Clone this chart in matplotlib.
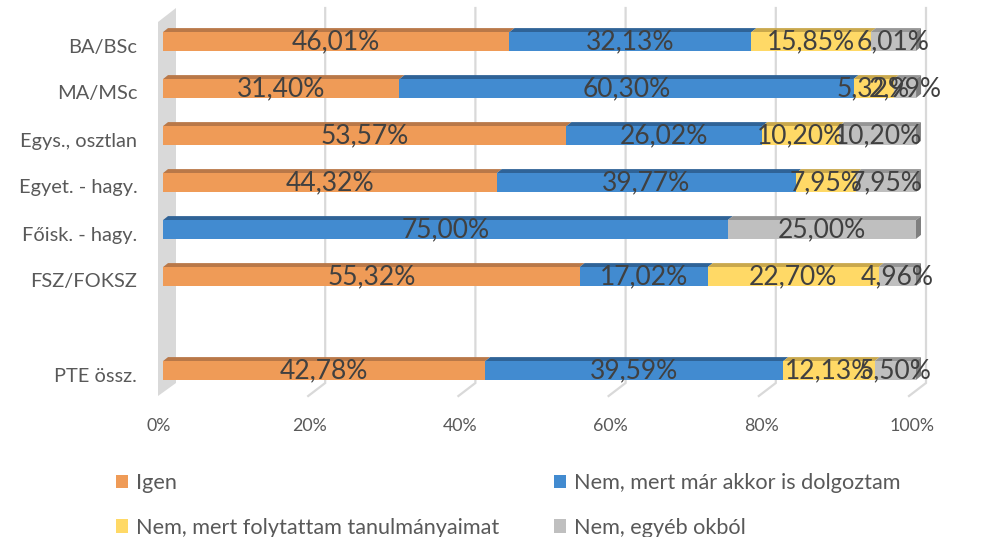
import matplotlib
matplotlib.use("Agg")
import matplotlib.pyplot as plt
from matplotlib.patches import Polygon, Patch
from matplotlib.transforms import IdentityTransform, blended_transform_factory, ScaledTranslation
import numpy as np

categories = ["BA/BSc", "MA/MSc", "Egys., osztlan", "Egyet. - hagy.",
              "Főisk. - hagy.", "FSZ/FOKSZ", "", "PTE össz."]
series_names = ["Igen", "Nem, mert már akkor is dolgoztam",
                "Nem, mert folytattam tanulmányaimat", "Nem, egyéb okból"]
igen = [46.01, 31.40, 53.57, 44.32, 0.0, 55.32, None, 42.78]
dolgoztam = [32.13, 60.30, 26.02, 39.77, 75.00, 17.02, None, 39.59]
tanulmany = [15.85, 5.32, 10.20, 7.95, 0.0, 22.70, None, 12.13]
egyeb = [6.01, 2.99, 10.20, 7.95, 25.00, 4.96, None, 5.50]
x_ticks = [0, 20, 40, 60, 80, 100]
x_tick_labels = ["0%", "20%", "40%", "60%", "80%", "100%"]

front_colors = ["#EF9B57", "#428BD0", "#FFD966", "#BFBFBF"]
top_colors = ["#B97848", "#2F6397", "#C9A84C", "#969696"]
side_colors = ["#B97848", "#2F6397", "#C9A84C", "#7F7F7F"]

FONT = "Lato"
W, H, DPI = 986, 537, 100
fig = plt.figure(figsize=(W / DPI, H / DPI), dpi=DPI)

# axes frame in pixels (left, top, right, bottom)
L, T, R, B = 163, 18, 916, 394
ax = fig.add_axes([L / W, 1 - B / H, (R - L) / W, (B - T) / H])
ax.set_xlim(0, 100)
ax.set_ylim(len(categories) - 0.5, -0.5)
for s in ax.spines.values():
    s.set_visible(False)
ax.set_facecolor("none")

DEPTH = (5, 4)          # bar top-face offset in pixels
BAR_H = 0.40

# back wall at 0 and gridlines on the back plane with floor edges
blend = blended_transform_factory(ax.transData, ax.transAxes)
ytop_ax = (B - 8) / (B - T)
yback_ax = (B - 383) / (B - T)
yfront_ax = (B - 396) / (B - T)


def d(x, y, trans, dx=0, dy=0):
    p = trans.transform((x, y))
    return (p[0] + dx, p[1] + dy)


wall = [d(0, yfront_ax, blend, -5, 0), d(0, 1 - (22 - T) / (B - T), blend, -5, 0),
        d(0, ytop_ax, blend, 13, 0), d(0, yback_ax, blend, 13, 0)]
ax.add_patch(Polygon(wall, closed=True, transform=IdentityTransform(),
                     facecolor="#D9D9D9", edgecolor="none", zorder=0, clip_on=False))

for v in x_ticks[1:]:
    shift = 12 - 0.02 * v
    pts = [d(v, ytop_ax, blend, shift), d(v, yback_ax, blend, shift),
           d(v, yfront_ax, blend, shift - 17)]
    ax.plot([p[0] for p in pts], [p[1] for p in pts],
            transform=IdentityTransform(), color="#D9D9D9", lw=1.6,
            zorder=0.5, clip_on=False, solid_joinstyle="miter")

# stacked bars with top faces and a right end face
series = [igen, dolgoztam, tanulmany, egyeb]
ypos = np.arange(len(categories))
for i, yc in enumerate(ypos):
    if igen[i] is None:
        continue
    vals = [s[i] for s in series]
    left = 0.0
    last = max(k for k, v in enumerate(vals) if v > 0)
    for k, v in enumerate(vals):
        if v <= 0:
            continue
        ax.barh(yc, v, left=left, height=BAR_H, color=front_colors[k],
                edgecolor="none", zorder=2)
        tl = d(left, yc - BAR_H / 2, ax.transData)
        tr = d(left + v, yc - BAR_H / 2, ax.transData)
        top = [tl, tr, (tr[0] + DEPTH[0], tr[1] + DEPTH[1]),
               (tl[0] + DEPTH[0], tl[1] + DEPTH[1])]
        ax.add_patch(Polygon(top, closed=True, transform=IdentityTransform(),
                             facecolor=top_colors[k], edgecolor="none",
                             zorder=1.8, clip_on=False))
        if k == last:
            br = d(left + v, yc + BAR_H / 2, ax.transData)
            side = [br, tr, (tr[0] + DEPTH[0], tr[1] + DEPTH[1]),
                    (br[0] + DEPTH[0], br[1] + DEPTH[1])]
            ax.add_patch(Polygon(side, closed=True, transform=IdentityTransform(),
                                 facecolor=side_colors[k], edgecolor="none",
                                 zorder=1.9, clip_on=False))
        ax.text(left + v / 2, yc, f"{v:.2f}%".replace(".", ","), ha="center",
                va="center", fontsize=19, family=FONT, color="#404040", zorder=5)
        left += v

# category labels
ax.set_yticks(ypos)
ax.set_yticklabels(categories, fontsize=14.4, family=FONT, color="#595959")
ax.tick_params(axis="y", length=0, pad=18.5)
for lab in ax.get_yticklabels():
    lab.set_transform(lab.get_transform() + ScaledTranslation(0, -4 / DPI, fig.dpi_scale_trans))

# value axis labels
ax.set_xticks(x_ticks)
ax.set_xticklabels(x_tick_labels, fontsize=12.8, family=FONT, color="#595959")
ax.tick_params(axis="x", length=0, pad=17)
for lab in ax.get_xticklabels():
    lab.set_transform(lab.get_transform() + ScaledTranslation(-4 / DPI, 0, fig.dpi_scale_trans))

# legend in two columns
handles = [Patch(facecolor=front_colors[k], edgecolor="none") for k in range(4)]
leg_kw = dict(loc="upper left", frameon=False, prop={"family": FONT, "size": 15.6},
              handlelength=0.56, handleheight=0.56, handletextpad=0.37,
              labelspacing=1.14, borderpad=0, borderaxespad=0)
for col, (k1, k2), x0 in [(0, (0, 2), 116), (1, (1, 3), 554)]:
    leg = fig.legend([handles[k1], handles[k2]], [series_names[k1], series_names[k2]],
                     bbox_to_anchor=(x0 / W, 1 - 473 / H), **leg_kw)
    for t in leg.get_texts():
        t.set_color("#595959")

fig.savefig("out.png", dpi=DPI)
